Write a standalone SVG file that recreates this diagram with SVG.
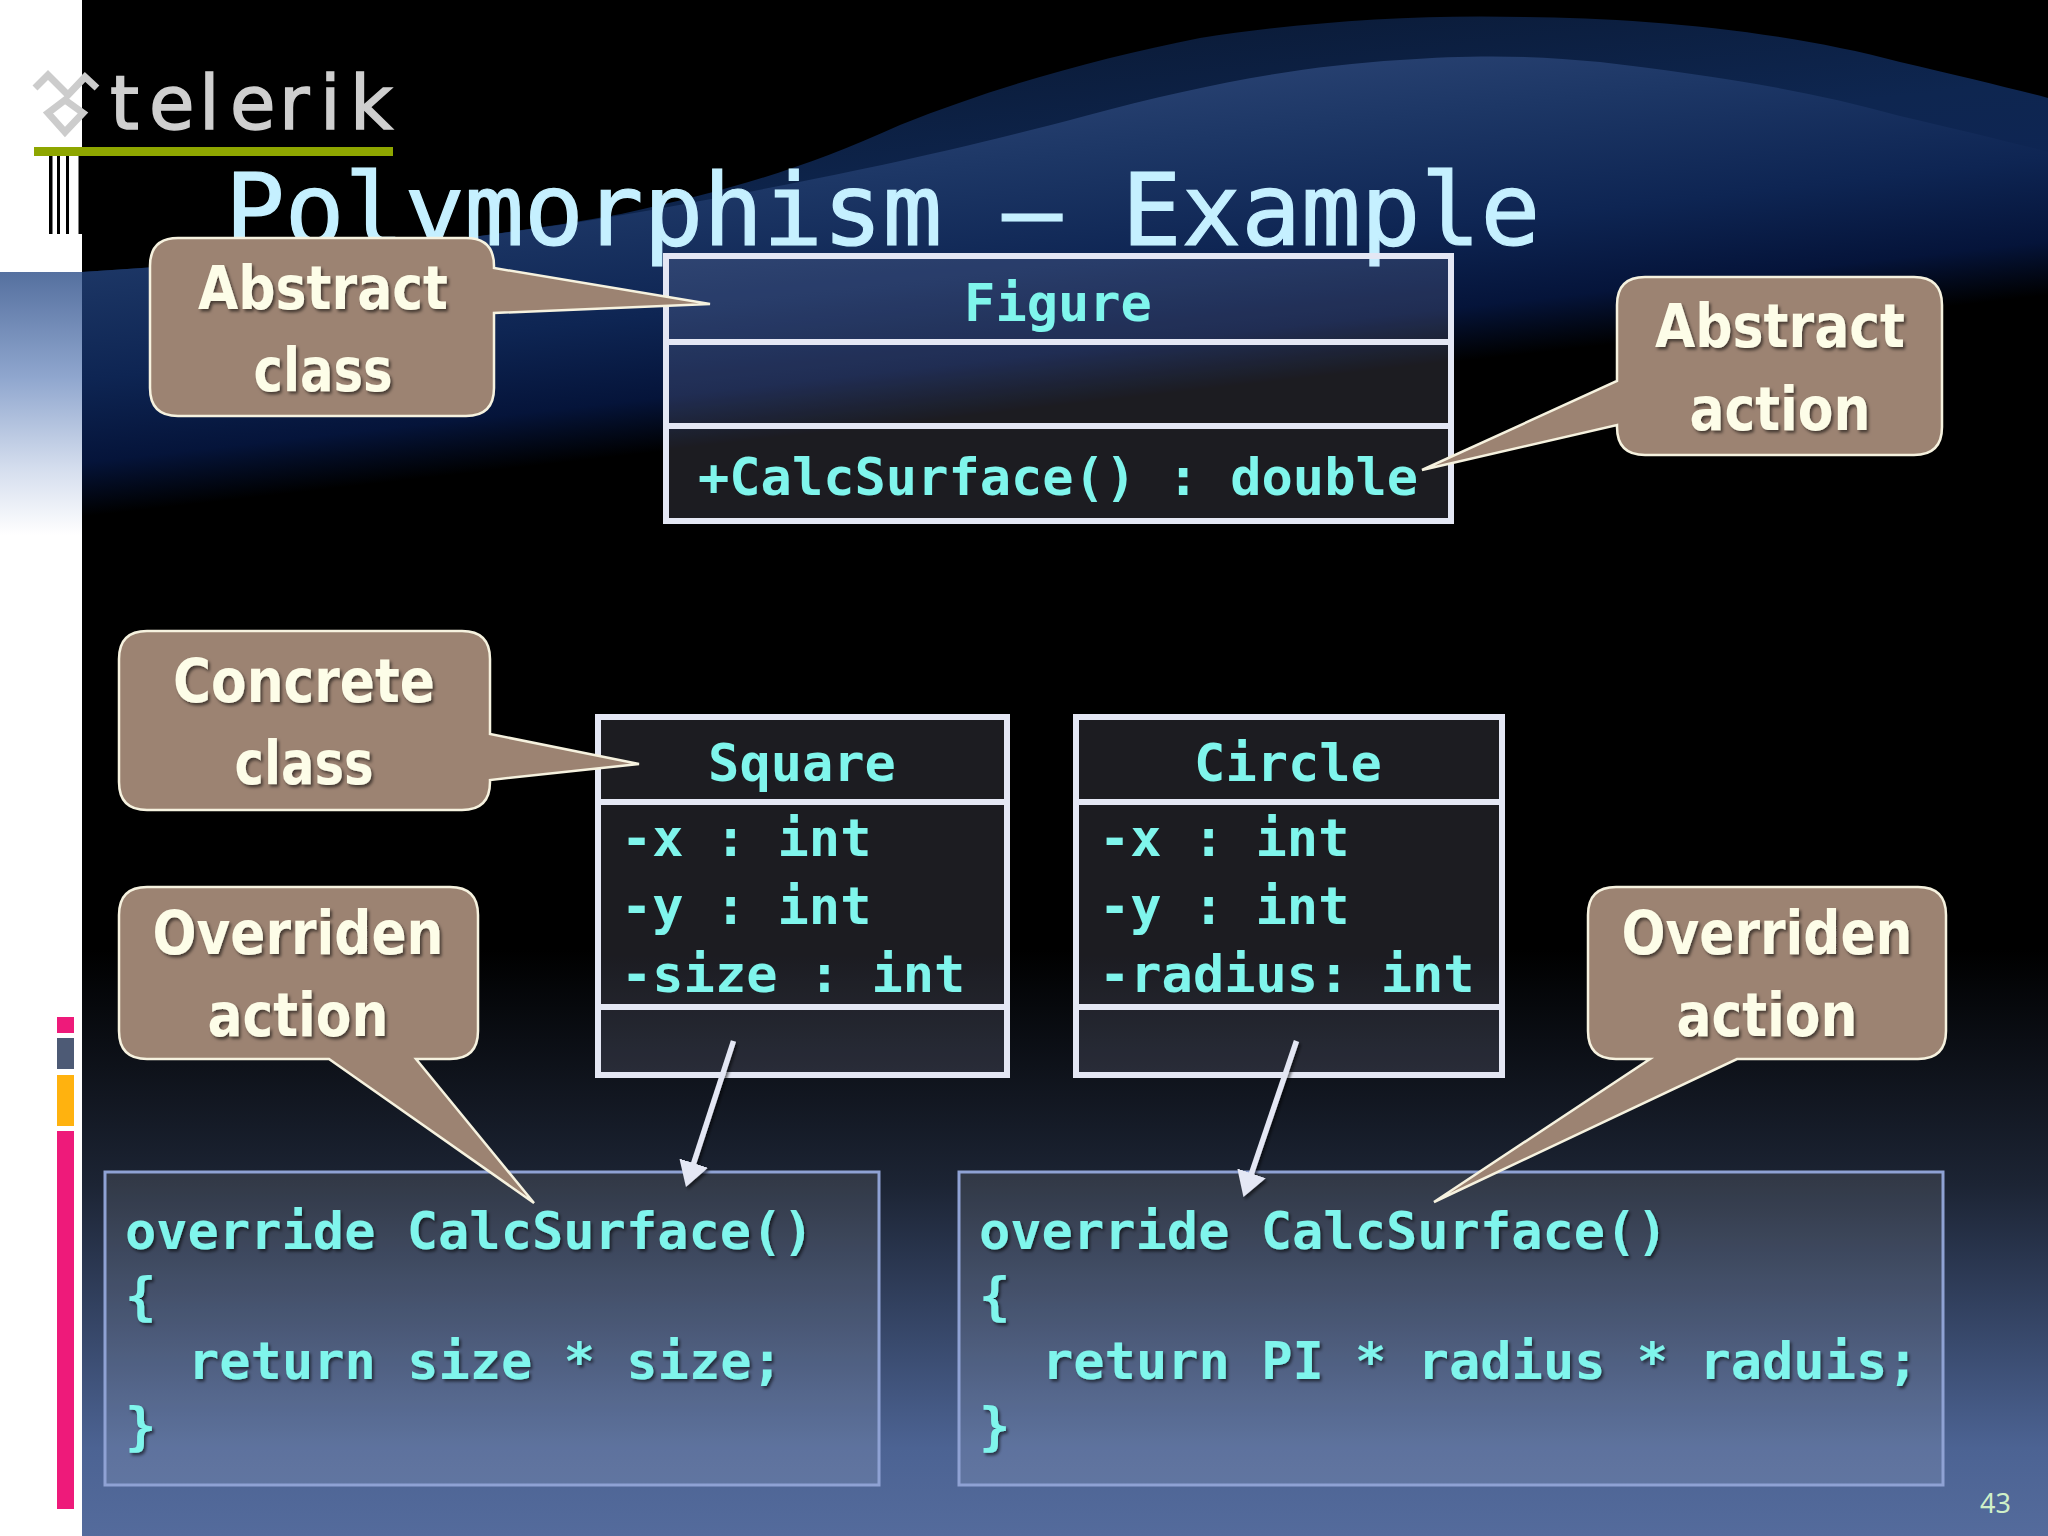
<svg xmlns="http://www.w3.org/2000/svg" width="2048" height="1536" viewBox="0 0 2048 1536">
<defs>
<linearGradient id="bottom" gradientUnits="userSpaceOnUse" x1="0" y1="950" x2="0" y2="1536"><stop offset="0" stop-color="#000"/><stop offset=".4" stop-color="#1c2434"/><stop offset=".85" stop-color="#4c6393"/><stop offset="1" stop-color="#546b9c"/></linearGradient>
<linearGradient id="waveOuter" gradientUnits="userSpaceOnUse" x1="1300" y1="20" x2="1340" y2="375"><stop offset="0" stop-color="#0b1c3a"/><stop offset=".4" stop-color="#0e2650"/><stop offset=".62" stop-color="#0e2553"/><stop offset=".85" stop-color="#05143a"/><stop offset="1" stop-color="#000"/></linearGradient>
<linearGradient id="waveInner" gradientUnits="userSpaceOnUse" x1="1300" y1="20" x2="1340" y2="375"><stop offset=".05" stop-color="#2b4474"/><stop offset=".3" stop-color="#1d3766"/><stop offset=".62" stop-color="#0e2553"/><stop offset=".85" stop-color="#05143a"/><stop offset="1" stop-color="#000"/></linearGradient>
<linearGradient id="strip" gradientUnits="userSpaceOnUse" x1="0" y1="272" x2="0" y2="535"><stop offset="0" stop-color="#55709f"/><stop offset=".4" stop-color="#8fa6ce"/><stop offset=".75" stop-color="#d5deee"/><stop offset="1" stop-color="#fff"/></linearGradient>
<filter id="shadow" x="-10%" y="-10%" width="120%" height="130%"><feDropShadow dx="2" dy="2.5" stdDeviation="1.4" flood-color="#000" flood-opacity=".55"/></filter>
<marker id="head" markerUnits="userSpaceOnUse" markerWidth="32" markerHeight="32" refX="10" refY="15" orient="auto"><path d="M0 0 L25 15 L0 30 Z" fill="#e4e7f4"/></marker>
</defs>
<style>
.uml{fill:#d8dcff;fill-opacity:.13;stroke:#e4e7f4;stroke-width:6}
.div{stroke:#e4e7f4;stroke-width:6;fill:none}
.code{fill:#fff;fill-opacity:.1;stroke:#8fa2d4;stroke-width:3}
.mono{font-family:"DejaVu Sans Mono","Liberation Mono",monospace;font-weight:700;font-size:52px;fill:#7ff5ec}
.mid{text-anchor:middle}
.call{fill:#9c8372;stroke:#f6f2df;stroke-width:2.5}
.ct{font-family:"DejaVu Sans Condensed","DejaVu Sans",sans-serif;font-stretch:condensed;font-weight:700;font-size:60px;fill:#fdfde8;text-anchor:middle;filter:url(#shadow)}
.sh{filter:url(#shadow)}
.conn{stroke:#e4e7f4;stroke-width:5.500;fill:none;marker-end:url(#head)}
</style>
<g id="background">
<rect width="2048" height="1536" fill="#000"/>
<rect y="900" width="2048" height="636" fill="url(#bottom)"/>
<path fill="url(#waveOuter)" d="M82 272 C300 258 480 240 621 214 C730 190 800 170 900 125 C1000 85 1100 58 1200 38 C1300 22 1420 14 1524 17 C1640 18 1780 30 1900 62 C1960 76 2010 88 2048 98 V600 H82 Z"/>
<path fill="url(#waveInner)" d="M82 272 C300 258 480 240 640 212 C760 190 900 165 1085 116 C1200 85 1300 66 1400 60 C1480 54 1540 56 1600 62 C1700 74 1800 88 1900 116 C1960 130 2010 142 2048 152 V600 H82 Z"/>
<rect width="82" height="1536" fill="#fff"/>
<rect y="272" width="82" height="263" fill="url(#strip)"/>
<rect x="57" y="1017" width="17" height="16" fill="#ee1a7a"/>
<rect x="57" y="1038" width="17" height="31" fill="#4d5a75"/>
<rect x="57" y="1075" width="17" height="51" fill="#ffb20f"/>
<rect x="57" y="1131" width="17" height="378" fill="#ee1a7a"/>
</g>
<g id="logo">
<path d="M35 88 L48 75 L68 95 L85 77 L97 88 M65 100 L83 113 L65 132 L48 113 Z" fill="none" stroke="#cccccc" stroke-width="7"/>
<text x="110 149 199 230 279 320 350" y="129" font-family="'DejaVu Sans',sans-serif" font-size="74" fill="#cfcfcf" stroke="#cfcfcf" stroke-width="1.500">telerik</text>
<rect x="34" y="147" width="359" height="9" fill="#8ea600"/>
<path d="M49 156h3.500v78h-3.500z M57 156h3v78h-3z M66 156h3v78h-3z M78.500 156h3.500v78h-3.500z" fill="#000"/>
</g>
<text id="title" x="225" y="245" font-family="'DejaVu Sans Mono','Liberation Mono',monospace" font-size="99.300" fill="#c5f0ff" stroke="#c5f0ff" stroke-width="1.200">Polymorphism – Example</text>
<g id="figure">
<rect class="uml" x="666" y="256" width="785" height="265"/>
<path class="div" d="M666 342H1451M666 426H1451"/>
<text class="mono mid" x="1058" y="321">Figure</text>
<text class="mono" x="698" y="495">+CalcSurface() : double</text>
</g>
<g id="square">
<rect class="uml" x="598" y="717" width="409" height="358"/>
<path class="div" d="M598 802H1007M598 1007H1007"/>
<text class="mono mid" x="802" y="781">Square</text>
<text class="mono" x="621" y="856">-x : int</text>
<text class="mono" x="621" y="924">-y : int</text>
<text class="mono" x="621" y="992">-size : int</text>
</g>
<g id="circle">
<rect class="uml" x="1076" y="717" width="426" height="358"/>
<path class="div" d="M1076 802H1502M1076 1007H1502"/>
<text class="mono mid" x="1288" y="781">Circle</text>
<text class="mono" x="1099" y="856">-x : int</text>
<text class="mono" x="1099" y="924">-y : int</text>
<text class="mono" x="1099" y="992">-radius: int</text>
</g>
<g id="code-square">
<rect class="code" x="105" y="1172" width="774" height="313"/>
<text class="mono sh" x="125" y="1249">override CalcSurface()</text>
<text class="mono sh" x="125" y="1314">{</text>
<text class="mono sh" x="188" y="1379">return size * size;</text>
<text class="mono sh" x="125" y="1444">}</text>
</g>
<g id="code-circle">
<rect class="code" x="959" y="1172" width="984" height="313"/>
<text class="mono sh" x="979" y="1249">override CalcSurface()</text>
<text class="mono sh" x="979" y="1314">{</text>
<text class="mono sh" x="1042" y="1379">return PI * radius * raduis;</text>
<text class="mono sh" x="979" y="1444">}</text>
</g>
<g id="connectors" filter="url(#shadow)">
<path class="conn" d="M733.500 1041 L690.600 1172.700"/>
<path class="conn" d="M1296.500 1041 L1248.300 1182.800"/>
</g>
<g id="callout-abstract-class">
<path class="call" d="M178 238H466Q494 238 494 266V268L710 304L494 313V388Q494 416 466 416H178Q150 416 150 388V266Q150 238 178 238Z"/>
<text class="ct" x="323" y="309" textLength="250" lengthAdjust="spacingAndGlyphs">Abstract</text>
<text class="ct" x="323" y="391" textLength="139" lengthAdjust="spacingAndGlyphs">class</text>
</g>
<g id="callout-abstract-action">
<path class="call" d="M1645 277H1914Q1942 277 1942 305V427Q1942 455 1914 455H1645Q1617 455 1617 427V425L1422 470L1617 381V305Q1617 277 1645 277Z"/>
<text class="ct" x="1780" y="347" textLength="250" lengthAdjust="spacingAndGlyphs">Abstract</text>
<text class="ct" x="1780" y="430" textLength="181" lengthAdjust="spacingAndGlyphs">action</text>
</g>
<g id="callout-concrete-class">
<path class="call" d="M147 631H462Q490 631 490 659V734L639 764L490 780V782Q490 810 462 810H147Q119 810 119 782V659Q119 631 147 631Z"/>
<text class="ct" x="304" y="702" textLength="262" lengthAdjust="spacingAndGlyphs">Concrete</text>
<text class="ct" x="304" y="784" textLength="139" lengthAdjust="spacingAndGlyphs">class</text>
</g>
<g id="callout-overriden-left">
<path class="call" d="M147 887H450Q478 887 478 915V1031Q478 1059 450 1059H416L534 1203L329 1059H147Q119 1059 119 1031V915Q119 887 147 887Z"/>
<text class="ct" x="298" y="954" textLength="291" lengthAdjust="spacingAndGlyphs">Overriden</text>
<text class="ct" x="298" y="1036" textLength="181" lengthAdjust="spacingAndGlyphs">action</text>
</g>
<g id="callout-overriden-right">
<path class="call" d="M1616 887H1918Q1946 887 1946 915V1031Q1946 1059 1918 1059H1737L1434 1202L1650 1059H1616Q1588 1059 1588 1031V915Q1588 887 1616 887Z"/>
<text class="ct" x="1767" y="954" textLength="291" lengthAdjust="spacingAndGlyphs">Overriden</text>
<text class="ct" x="1767" y="1036" textLength="181" lengthAdjust="spacingAndGlyphs">action</text>
</g>
<text id="page-number" x="1980" y="1513" font-family="'Noto Sans',sans-serif" font-size="27" fill="#d0f0c8">43</text>
</svg>
